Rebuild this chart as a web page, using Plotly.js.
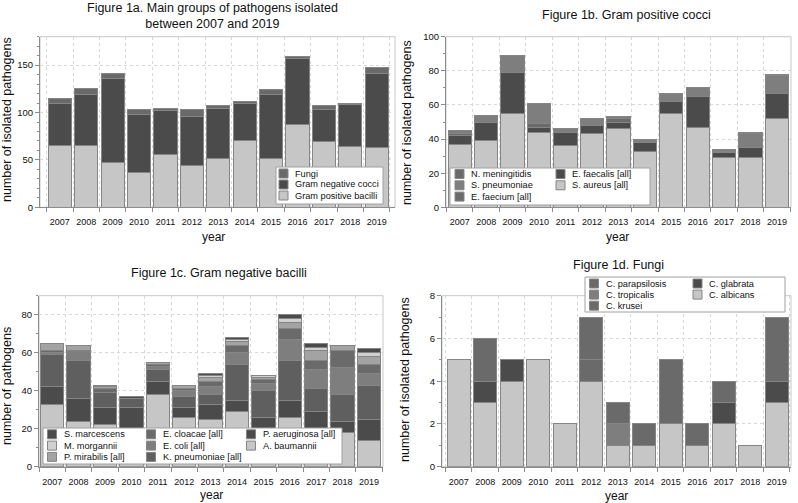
<!DOCTYPE html>
<html>
<head>
<meta charset="utf-8">
<script src="https://cdn.plot.ly/plotly-3.0.1.min.js"></script>
<style>
  body { margin: 0; background: #fff; }
  #chart { width: 798px; height: 503px; }
</style>
</head>
<body>
<div id="chart"></div>
<script>
var W = 798, H = 503;
var years = ['2007','2008','2009','2010','2011','2012','2013','2014','2015','2016','2017','2018','2019'];

///////// Figure 1a
var posBacilli = [65, 65, 47, 37, 56, 44, 51, 70, 52, 87, 69, 64, 63];
var negCocci   = [45, 54, 89, 61, 46, 52, 53, 40, 67, 70, 34, 44, 78];
var fungi      = [5, 6, 5, 5, 2, 7, 3, 2, 5, 2, 4, 1, 7];

///////// Figure 1b
var sAureus    = [37, 39, 55, 44, 36, 43, 46, 33, 55, 47, 29, 29, 52];
var eFaecalis  = [5, 11, 24, 3, 8, 5, 4, 5, 7, 18, 3, 6, 15];
var eFaecium   = [1, 0, 0, 2, 0, 0, 2, 0, 0, 0, 1, 0, 0];
var sPneumo    = [2, 4, 10, 12, 2, 4, 1, 2, 5, 5, 1, 8, 10];
var nMening    = [0, 0, 0, 0, 0, 0, 0, 0, 0, 0, 0, 1, 1];

///////// Figure 1c
var aBaumannii = [33, 24, 22, 14, 38, 26, 25, 29, 18, 26, 17, 18, 14];
var pAerug     = [9, 12, 9, 17, 7, 5, 8, 6, 8, 9, 12, 6, 11];
var kPneumo    = [17, 20, 8, 5, 6, 6, 5, 19, 14, 21, 12, 14, 18];
var eColi      = [1, 5, 0, 0, 2, 3, 4, 6, 4, 11, 10, 14, 6];
var eCloacae   = [1, 0, 2, 0, 1, 1, 3, 4, 2, 6, 5, 9, 5];
var pMirabilis = [4, 3, 1, 0, 1, 2, 2, 2, 1, 3, 5, 3, 4];
var mMorganii  = [0, 0, 0, 0, 0, 0, 1, 1, 1, 2, 2, 0, 2];
var sMarc      = [0, 0, 1, 1, 0, 0, 1, 1, 0, 2, 2, 0, 2];

///////// Figure 1d
var cAlbicans  = [5, 3, 4, 5, 2, 4, 1, 1, 2, 1, 2, 1, 3];
var cGlabrata  = [0, 1, 1, 0, 0, 0, 0, 0, 0, 0, 1, 0, 1];
var cKrusei    = [0, 2, 0, 0, 0, 1, 0, 1, 3, 1, 1, 0, 3];
var cTropic    = [0, 0, 0, 0, 0, 0, 1, 0, 0, 0, 0, 0, 0];
var cParaps    = [0, 0, 0, 0, 0, 2, 1, 0, 0, 0, 0, 0, 0];

var LIGHT = '#c6c6c6', DARK = '#4b4b4b', MDARK = '#6a6a6a', MID = '#7e7e7e', PALE = '#a3a3a3', LIGHTER = '#d0d0d0';

function bar(name, y, color, n) {
  return {
    x: years, y: y, type: 'bar', name: name, showlegend: false,
    xaxis: 'x' + (n > 1 ? n : ''), yaxis: 'y' + (n > 1 ? n : ''),
    marker: {color: color, line: {color: '#858585', width: 1}},
    hoverinfo: 'x+y+name'
  };
}

var data = [
  bar('Gram positive bacilli', posBacilli, LIGHT, 1),
  bar('Gram negative cocci', negCocci, DARK, 1),
  bar('Fungi', fungi, MDARK, 1),

  bar('S. aureus [all]', sAureus, LIGHT, 2),
  bar('E. faecalis [all]', eFaecalis, DARK, 2),
  bar('E. faecium [all]', eFaecium, MDARK, 2),
  bar('S. pneumoniae', sPneumo, MID, 2),
  bar('N. meningitidis', nMening, MDARK, 2),

  bar('A. baumannii', aBaumannii, LIGHT, 3),
  bar('P. aeruginosa [all]', pAerug, DARK, 3),
  bar('K. pneumoniae [all]', kPneumo, '#5f5f5f', 3),
  bar('E. coli [all]', eColi, MID, 3),
  bar('E. cloacae [all]', eCloacae, MDARK, 3),
  bar('P. mirabilis [all]', pMirabilis, PALE, 3),
  bar('M. morgannii', mMorganii, LIGHTER, 3),
  bar('S. marcescens', sMarc, DARK, 3),

  bar('C. albicans', cAlbicans, LIGHT, 4),
  bar('C. glabrata', cGlabrata, DARK, 4),
  bar('C. krusei', cKrusei, MDARK, 4),
  bar('C. tropicalis', cTropic, MID, 4),
  bar('C. parapsilosis', cParaps, MDARK, 4)
];

function px(x) { return x / W; }
function py(y) { return 1 - y / H; }

function xax(l, r, range, anchor) {
  return {
    domain: [px(l), px(r)], anchor: anchor, type: 'category', range: range,
    tickson: 'boundaries', ticks: 'outside', ticklen: 4, tickcolor: '#8c8c8c',
    showline: true, linecolor: '#8c8c8c', linewidth: 1, tickangle: 0,
    ticklabelstandoff: 6,
    showgrid: true, gridcolor: '#d8d8d8', griddash: 'dot',
    tickfont: {size: 9, color: '#111'}
  };
}
function yax(top, bot, range, dtick, minor, anchor) {
  return {
    domain: [py(bot), py(top)], anchor: anchor, range: range, dtick: dtick,
    ticks: 'outside', ticklen: 4, tickcolor: '#8c8c8c',
    showline: true, linecolor: '#8c8c8c', linewidth: 1,
    showgrid: true, gridcolor: '#d8d8d8', griddash: 'dot', zeroline: false,
    minor: {dtick: minor, ticks: 'outside', ticklen: 2, tickcolor: '#8c8c8c', showgrid: false},
    tickfont: {size: 9.5, color: '#111'}
  };
}

var shapes = [], annotations = [];

// frames
['', '2', '3', '4'].forEach(function (s) {
  shapes.push({type: 'rect', xref: 'x' + s + ' domain', yref: 'y' + s + ' domain',
    x0: 0, x1: 1, y0: 0, y1: 1, line: {color: '#c8c8c8', width: 1}, layer: 'below'});
});

function text(t, x, y, size, angle, anchor) {
  annotations.push({text: t, x: px(x), y: py(y), xref: 'paper', yref: 'paper',
    showarrow: false, textangle: angle || 0, xanchor: anchor || 'center', yanchor: 'middle',
    font: {size: size, color: '#111', family: 'Liberation Sans, Arial, sans-serif'}});
}

// legend box + entries, built from names/colours
function legend(box, cols, rows, items) {
  shapes.push({type: 'rect', xref: 'paper', yref: 'paper', x0: px(box[0]), x1: px(box[2]),
    y0: py(box[3]), y1: py(box[1]), fillcolor: '#fff', line: {color: '#a0a0a0', width: 1}, layer: 'above'});
  items.forEach(function (it) {
    var cx = cols[it[2]], cy = rows[it[3]];
    shapes.push({type: 'rect', xref: 'paper', yref: 'paper', x0: px(cx), x1: px(cx + 9),
      y0: py(cy + 4.5), y1: py(cy - 4.5), fillcolor: it[1], line: {color: '#858585', width: 1}, layer: 'above'});
    text(it[0], cx + 14, cy, 9.2, 0, 'left');
  });
}

legend([276, 167, 383, 204], [279], [173.5, 184.5, 195.5], [
  ['Fungi', MDARK, 0, 0], ['Gram negative cocci', DARK, 0, 1], ['Gram positive bacilli', LIGHT, 0, 2]]);

legend([450, 168, 650, 205], [455, 556], [174, 185.3, 196.6], [
  ['N. meningitidis', MDARK, 0, 0], ['S. pneumoniae', MID, 0, 1], ['E. faecium [all]', MDARK, 0, 2],
  ['E. faecalis [all]', DARK, 1, 0], ['S. aureus [all]', LIGHT, 1, 1]]);

legend([43, 428, 342, 464], [47.5, 146.5, 246.5], [434.3, 445.6, 456.9], [
  ['S. marcescens', DARK, 0, 0], ['M. morgannii', LIGHTER, 0, 1], ['P. mirabilis [all]', PALE, 0, 2],
  ['E. cloacae [all]', MDARK, 1, 0], ['E. coli [all]', MID, 1, 1], ['K. pneumoniae [all]', '#5f5f5f', 1, 2],
  ['P. aeruginosa [all]', DARK, 2, 0], ['A. baumannii', LIGHT, 2, 1]]);

legend([585, 277, 785, 312], [589.5, 693], [283.5, 294.6, 305.7], [
  ['C. parapsilosis', MDARK, 0, 0], ['C. tropicalis', MID, 0, 1], ['C. krusei', MDARK, 0, 2],
  ['C. glabrata', DARK, 1, 0], ['C. albicans', LIGHT, 1, 1]]);

// titles
text('Figure 1a. Main groups of pathogens isolated<br>between 2007 and 2019', 212, 15.5, 12.5);
text('Figure 1b. Gram positive cocci', 626, 15, 12.5);
text('Figure 1c. Gram negative bacilli', 219, 273, 12.5);
text('Figure 1d. Fungi', 618, 265, 12.5);

// axis titles
text('year', 213, 237, 12);
text('year', 617, 237, 12);
text('year', 211, 495, 12);
text('year', 616, 495.5, 12);
text('number of isolated pathogens', 7, 120, 12.5, -90);
text('number of isolated pathogens', 407, 123, 12.5, -90);
text('number of pathogens', 7, 386, 12.5, -90);
text('number of isolated pathogens', 405, 380, 12.5, -90);

var layout = {
  width: W, height: H,
  margin: {l: 0, r: 0, t: 0, b: 0},
  paper_bgcolor: '#fff', plot_bgcolor: '#fff',
  font: {family: 'Liberation Sans, Arial, sans-serif', color: '#111'},
  barmode: 'stack', bargap: 0.12,
  showlegend: false,
  xaxis:  xax(40, 395, [-0.75, 12.69], 'y'),
  yaxis:  yax(36.7, 207.3, [0, 180], 50, 10, 'x'),
  xaxis2: xax(446, 791, [-0.52, 12.53], 'y2'),
  yaxis2: yax(36.7, 207.3, [0, 100], 20, 10, 'x2'),
  xaxis3: xax(39, 383, [-0.5, 12.53], 'y3'),
  yaxis3: yax(295.7, 466.7, [0, 90], 20, 10, 'x3'),
  xaxis4: xax(442, 791, [-0.63, 12.54], 'y4'),
  yaxis4: yax(295.7, 466.7, [0, 8], 2, 1, 'x4'),
  shapes: shapes,
  annotations: annotations
};

Plotly.newPlot('chart', data, layout, {displayModeBar: false, staticPlot: true});
</script>
</body>
</html>
